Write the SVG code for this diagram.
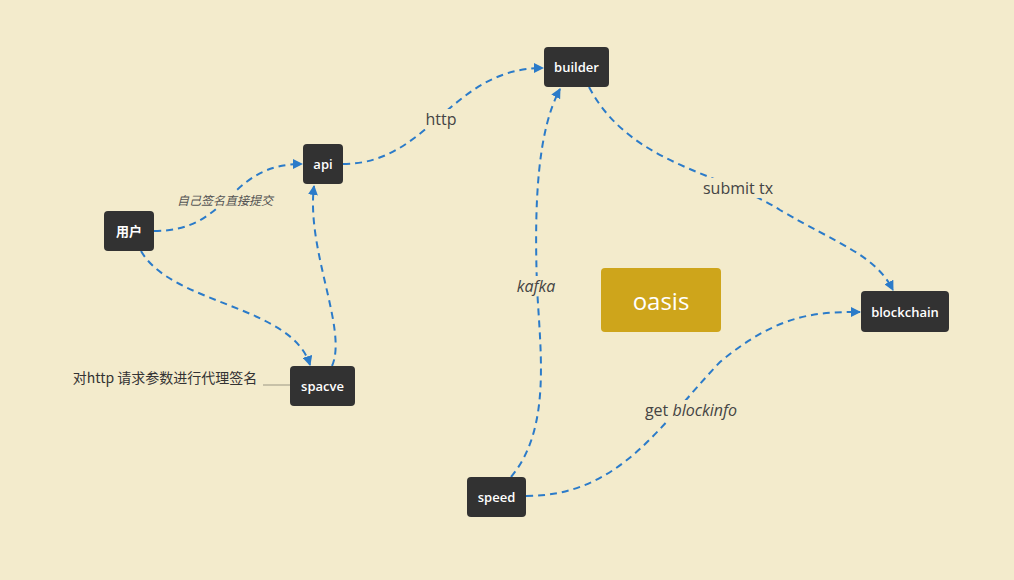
<svg xmlns="http://www.w3.org/2000/svg" width="1014" height="580" viewBox="0 0 1014 580">
<style>
.node rect{fill:#323232;}
.node text{fill:#ffffff;font-family:"Open Sans","Noto Sans CJK SC",sans-serif;font-size:13px;font-weight:600;text-anchor:middle;dominant-baseline:central;}
.edge{fill:none;stroke:#2b7bc9;stroke-width:2;stroke-dasharray:7 5;marker-end:url(#arr);}
.lbl{fill:#444;font-family:"Open Sans","Noto Sans CJK SC",sans-serif;font-size:16px;text-anchor:middle;dominant-baseline:central;}
.lblbg{fill:#f3ebcc;}
</style>
<defs>
<marker id="arr" viewBox="0 0 10 10" refX="9" refY="5" markerWidth="5" markerHeight="5" orient="auto" markerUnits="strokeWidth">
<path d="M0,0 L10,5 L0,10 z" fill="#2b7bc9"/>
</marker>
</defs>
<rect width="1014" height="580" fill="#f3ebcc"/>
<g id="connectors">
<path class="edge" d="M154,231 C232,231 226,164 302,164"/>
<path class="edge" d="M141,251 C172,305 292,305 310,365"/>
<path class="edge" d="M332,366 C348,330 306,250 314,186"/>
<path class="edge" d="M343,164 C430,164 450,68 543,68"/>
<path class="edge" d="M511,477 C552,428 540,350 537,286 C534,200 538,130 560,89"/>
<path class="edge" d="M589,87 C630,165 720,172 780,210 C840,245 875,255 893,290"/>
<path class="edge" d="M526,496 C620,496 660,425 720,362 C780,312 820,312 860,312"/>
<line x1="263" y1="385" x2="290" y2="385" stroke="#b9b39c" stroke-width="1.5"/>
</g>
<g id="edge-labels">
<rect class="lblbg" x="176" y="191" width="99" height="16"/>
<text x="225" y="199" style="fill:#555;font-family:'Noto Sans CJK SC',sans-serif;font-size:12px;font-style:italic;text-anchor:middle;dominant-baseline:central;">自己签名直接提交</text>
<rect class="lblbg" x="422" y="109" width="38" height="20"/>
<text class="lbl" x="441" y="119">http</text>
<rect class="lblbg" x="513" y="276" width="46" height="20"/>
<text class="lbl" x="536" y="286" font-style="italic">kafka</text>
<rect class="lblbg" x="699" y="178" width="78" height="20"/>
<text class="lbl" x="738" y="188">submit tx</text>
<rect class="lblbg" x="637" y="400" width="108" height="20"/>
<text class="lbl" x="691" y="410">get <tspan font-style="italic">blockinfo</tspan></text>
<text x="165" y="377" style="fill:#333;font-family:'Noto Sans CJK SC',sans-serif;font-size:14px;text-anchor:middle;dominant-baseline:central;">对http 请求参数进行代理签名</text>
</g>
<g id="node-yonghu" class="node"><rect x="104" y="211" width="50" height="40" rx="4"/><text x="129" y="231">用户</text></g>
<g id="node-api" class="node"><rect x="303" y="144" width="40" height="40" rx="4"/><text x="323" y="164">api</text></g>
<g id="node-spacve" class="node"><rect x="290" y="366" width="65" height="40" rx="4"/><text x="322.5" y="386">spacve</text></g>
<g id="node-builder" class="node"><rect x="544" y="47" width="65" height="40" rx="4"/><text x="576.5" y="67">builder</text></g>
<g id="node-blockchain" class="node"><rect x="861" y="291" width="88" height="41" rx="4"/><text x="905" y="311.5">blockchain</text></g>
<g id="node-speed" class="node"><rect x="467" y="477" width="59" height="40" rx="4"/><text x="496.5" y="497">speed</text></g>
<g id="node-oasis"><rect x="601" y="268" width="120" height="64" rx="4" fill="#cea51b"/><text x="661" y="300" style="fill:#fff;font-family:'Open Sans',sans-serif;font-size:24px;text-anchor:middle;dominant-baseline:central;">oasis</text></g>
</svg>
